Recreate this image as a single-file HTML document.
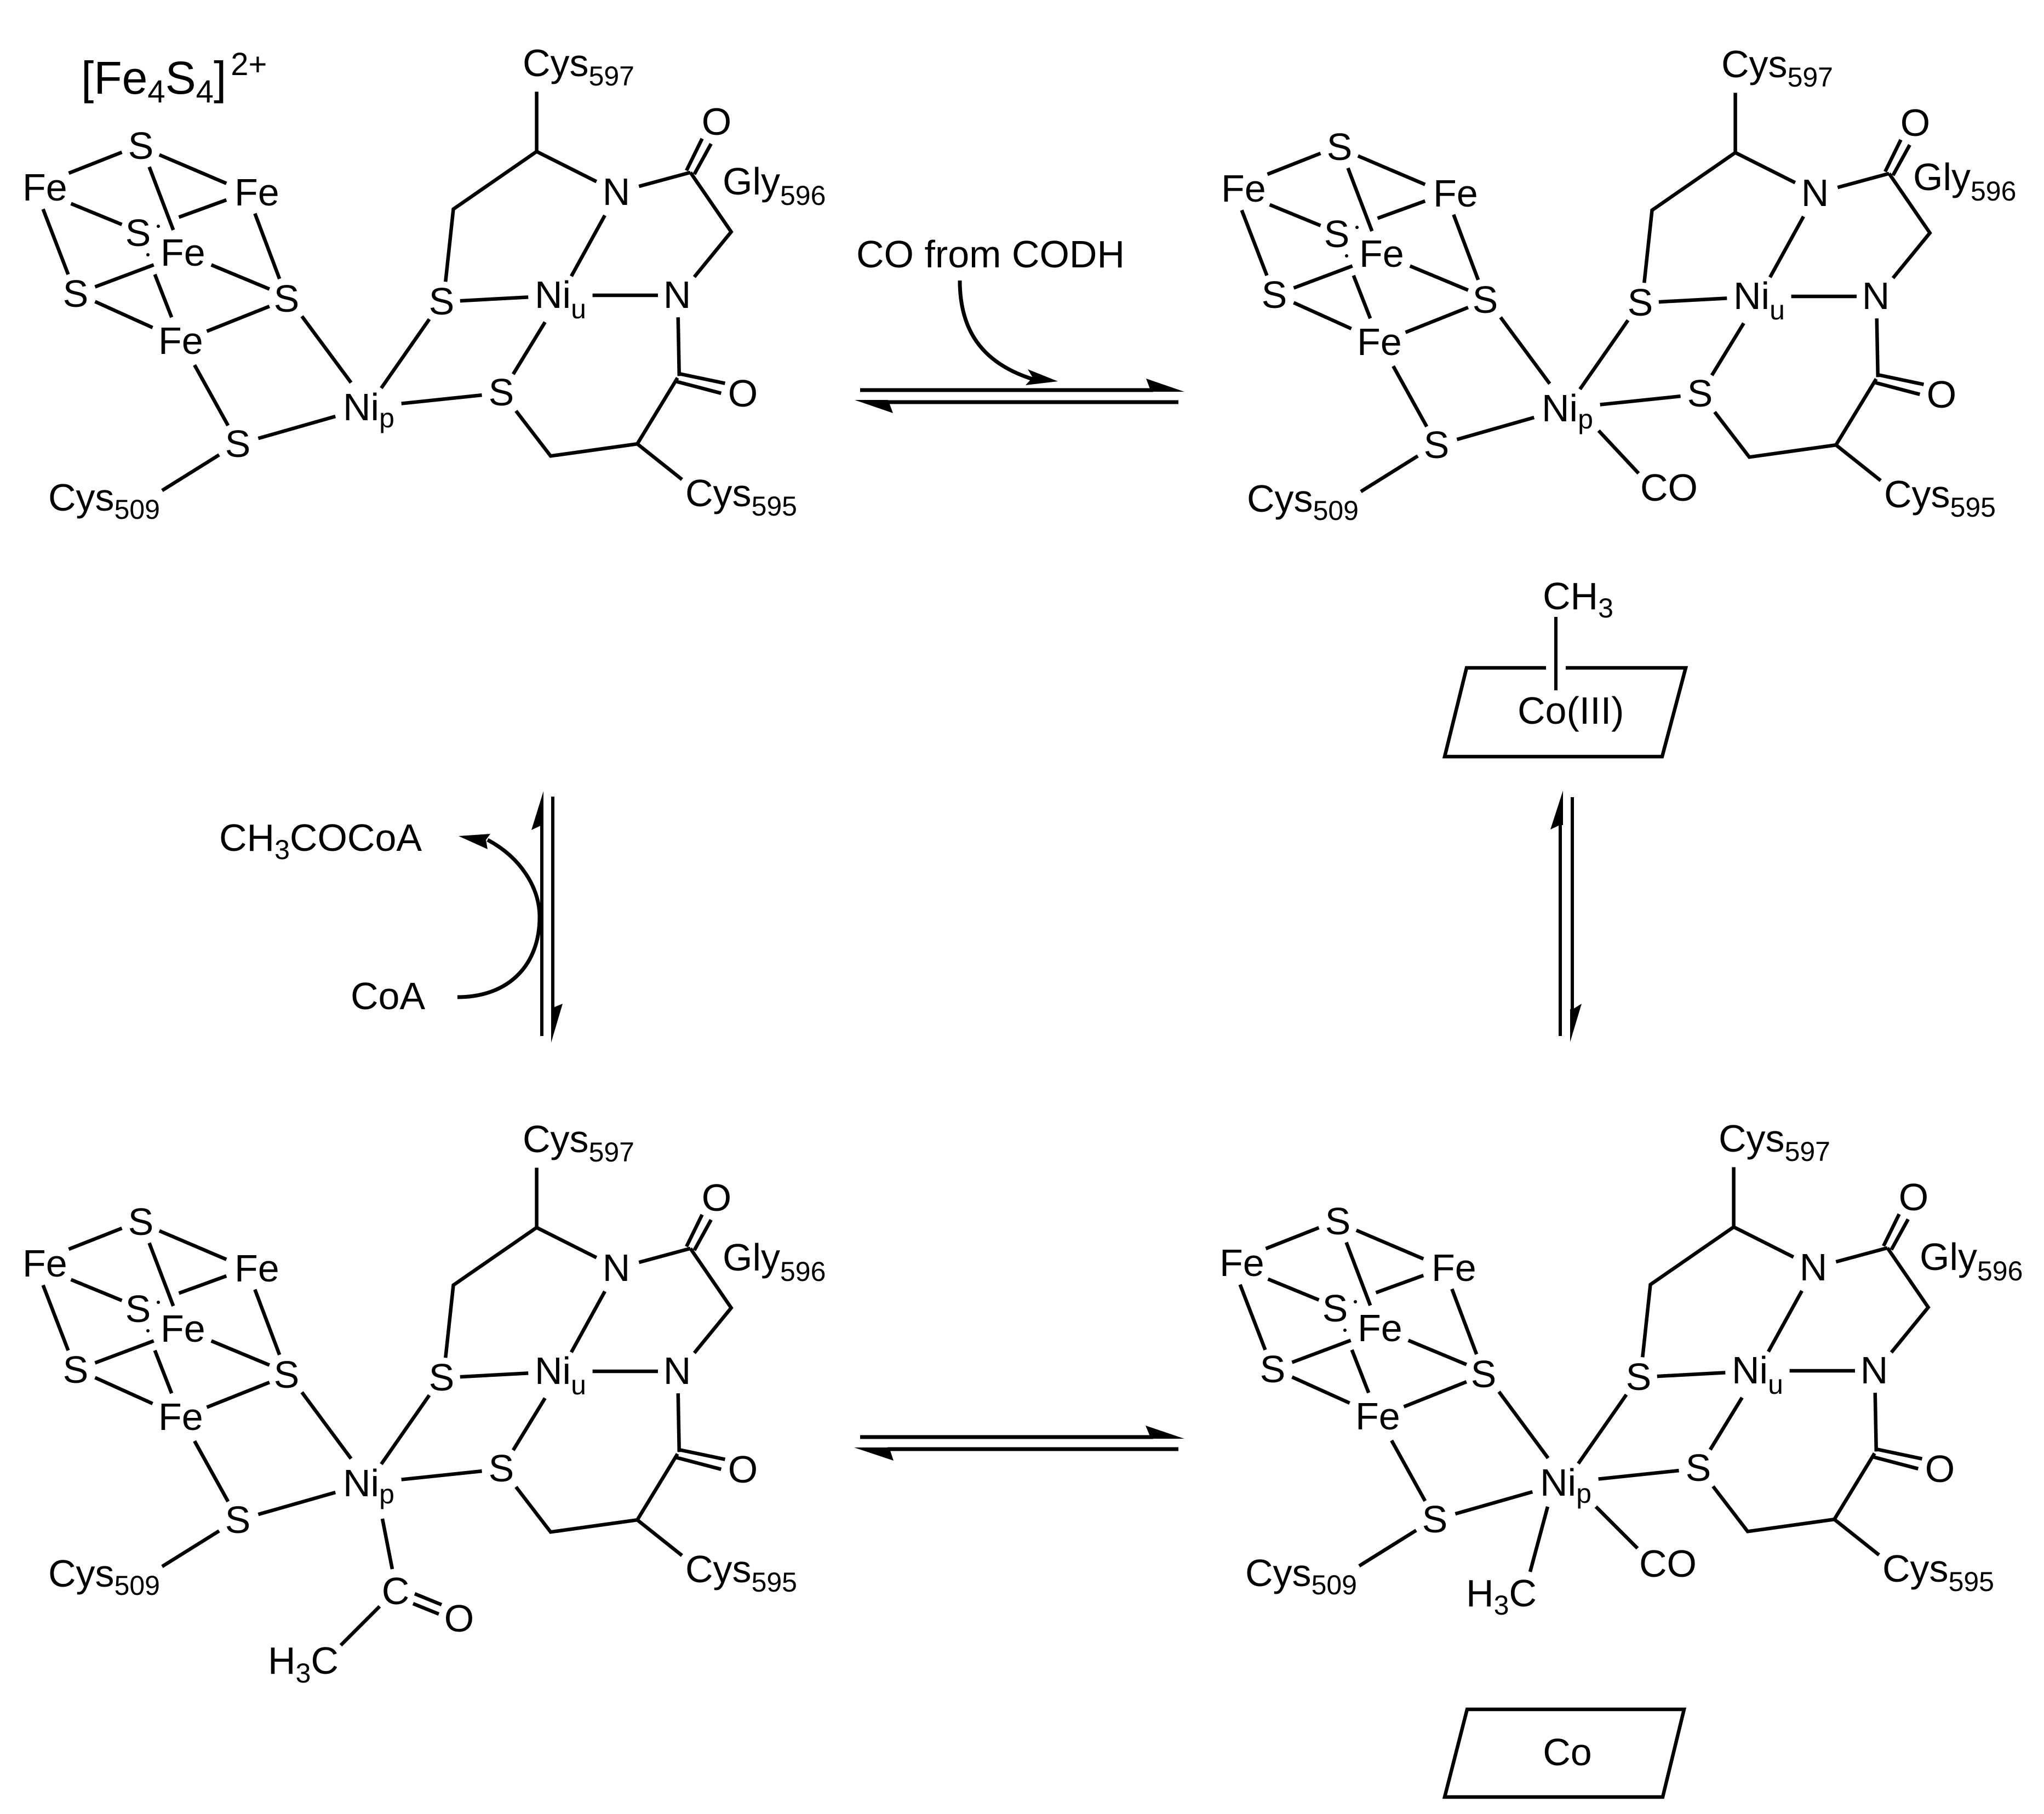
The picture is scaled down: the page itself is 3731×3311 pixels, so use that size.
<!DOCTYPE html>
<html><head><meta charset="utf-8"><style>
html,body{margin:0;padding:0;background:#fff}
svg{display:block}
text{font-family:"Liberation Sans",sans-serif;font-size:70px;fill:#000}
.m{text-anchor:middle}
.s{font-size:50px}
.b line,.b polyline{stroke:#000;stroke-width:6.5;fill:none;vector-effect:non-scaling-stroke}
.a{stroke:#000;fill:none;stroke-width:7}
</style></head><body>
<svg xmlns="http://www.w3.org/2000/svg" width="3731" height="3311" viewBox="0 0 3731 3311">
<rect width="3731" height="3311" fill="#fff"/>
<defs>
<g id="bonds" class="b" transform="scale(1.0204 0.6696)">
<line x1="218" y1="415" x2="123" y2="472"/>
<line x1="285" y1="422" x2="405" y2="500"/>
<line x1="267" y1="455" x2="310" y2="627"/>
<line x1="127" y1="555" x2="218" y2="612"/>
<line x1="405" y1="545" x2="320" y2="592"/>
<line x1="77" y1="570" x2="122" y2="748"/>
<line x1="456" y1="582" x2="500" y2="760"/>
<line x1="275" y1="722" x2="170" y2="782"/>
<line x1="378" y1="722" x2="482" y2="788"/>
<line x1="277" y1="748" x2="307" y2="865"/>
<line x1="170" y1="822" x2="273" y2="893"/>
<line x1="482" y1="835" x2="370" y2="903"/>
<line x1="540" y1="862" x2="628" y2="1043"/>
<line x1="348" y1="995" x2="408" y2="1160"/>
<line x1="462" y1="1195" x2="600" y2="1135"/>
<line x1="392" y1="1240" x2="290" y2="1337"/>
<line x1="768" y1="870" x2="682" y2="1058"/>
<line x1="718" y1="1100" x2="862" y2="1077"/>
<line x1="823" y1="820" x2="945" y2="810"/>
<polyline points="797,768 811,570 960,413 960,250"/>
<line x1="960" y1="413" x2="1067" y2="495"/>
<line x1="1143" y1="508" x2="1235" y2="470"/>
<line x1="1228" y1="465" x2="1256" y2="378"/>
<line x1="1242" y1="475" x2="1272" y2="392"/>
<polyline points="1235,470 1308,632 1242,755"/>
<line x1="1082" y1="587" x2="1022" y2="753"/>
<line x1="1060" y1="805" x2="1177" y2="805"/>
<line x1="1213" y1="865" x2="1215" y2="1025"/>
<line x1="1213" y1="1018" x2="1297" y2="1045"/>
<line x1="1210" y1="1040" x2="1290" y2="1072"/>
<polyline points="1212,1030 1140,1210 985,1243 923,1120"/>
<line x1="1140" y1="1210" x2="1220" y2="1307"/>
<line x1="975" y1="878" x2="918" y2="1020"/>
</g>
</defs>

<!-- Molecule 1 -->
<use href="#bonds"/>
<text x="148" y="171" style="font-size:84px">[Fe<tspan style="font-size:58px" dy="16">4</tspan><tspan dy="-16">S</tspan><tspan style="font-size:58px" dy="16">4</tspan><tspan dy="-16">]</tspan><tspan style="font-size:58px" dy="-34" dx="8">2+</tspan></text>
<g>
<text x="954" y="139">Cys<tspan class="s" dy="17">597</tspan></text>
<text class="m" x="1308" y="246">O</text>
<text x="1319" y="355">Gly<tspan class="s" dy="19">596</tspan></text>
<text x="41" y="366">Fe</text>
<text class="m" x="257" y="290">S</text>
<text x="428" y="375">Fe</text>
<text class="m" x="252" y="449">S</text>
<text x="293" y="485">Fe</text>
<text class="m" x="138" y="560">S</text>
<text class="m" x="523" y="569">S</text>
<text x="289" y="646">Fe</text>
<text class="m" x="434" y="834">S</text>
<text x="626" y="767">Ni<tspan class="s" dy="13">p</tspan></text>
<text x="88" y="932">Cys<tspan class="s" dy="15">509</tspan></text>
<text class="m" x="806" y="574">S</text>
<text x="976" y="562">Ni<tspan class="s" dy="19">u</tspan></text>
<text class="m" x="915" y="740">S</text>
<text class="m" x="1125" y="374">N</text>
<text class="m" x="1236" y="562">N</text>
<text class="m" x="1356" y="742">O</text>
<text x="1251" y="924">Cys<tspan class="s" dy="17">595</tspan></text>
<circle cx="289" cy="413" r="3"/><circle cx="270" cy="465" r="3"/>
</g>

<!-- Molecule 2 -->
<use href="#bonds" transform="translate(2188 2)"/>
<g transform="translate(2188 2)">
<text x="954" y="139">Cys<tspan class="s" dy="17">597</tspan></text>
<text class="m" x="1308" y="246">O</text>
<text x="1304" y="345">Gly<tspan class="s" dy="19">596</tspan></text>
<text x="41" y="366">Fe</text>
<text class="m" x="257" y="290">S</text>
<text x="428" y="375">Fe</text>
<text class="m" x="252" y="449">S</text>
<text x="293" y="485">Fe</text>
<text class="m" x="138" y="560">S</text>
<text class="m" x="523" y="569">S</text>
<text x="289" y="646">Fe</text>
<text class="m" x="434" y="834">S</text>
<text x="626" y="767">Ni<tspan class="s" dy="13">p</tspan></text>
<text x="88" y="932">Cys<tspan class="s" dy="15">509</tspan></text>
<text class="m" x="806" y="574">S</text>
<text x="976" y="562">Ni<tspan class="s" dy="19">u</tspan></text>
<text class="m" x="915" y="740">S</text>
<text class="m" x="1125" y="374">N</text>
<text class="m" x="1236" y="562">N</text>
<text class="m" x="1356" y="742">O</text>
<text x="1251" y="924">Cys<tspan class="s" dy="17">595</tspan></text>
<circle cx="289" cy="413" r="3"/><circle cx="270" cy="465" r="3"/>
</g>
<line x1="2918" y1="786" x2="2991" y2="864" stroke="#000" stroke-width="6.5"/>
<text x="2994" y="914">CO</text>

<!-- Molecule 3 -->
<use href="#bonds" transform="translate(0 1964)"/>
<g transform="translate(0 1964)">
<text x="954" y="139">Cys<tspan class="s" dy="17">597</tspan></text>
<text class="m" x="1308" y="246">O</text>
<text x="1319" y="355">Gly<tspan class="s" dy="19">596</tspan></text>
<text x="41" y="366">Fe</text>
<text class="m" x="257" y="290">S</text>
<text x="428" y="375">Fe</text>
<text class="m" x="252" y="449">S</text>
<text x="293" y="485">Fe</text>
<text class="m" x="138" y="560">S</text>
<text class="m" x="523" y="569">S</text>
<text x="289" y="646">Fe</text>
<text class="m" x="434" y="834">S</text>
<text x="626" y="767">Ni<tspan class="s" dy="13">p</tspan></text>
<text x="88" y="932">Cys<tspan class="s" dy="15">509</tspan></text>
<text class="m" x="806" y="574">S</text>
<text x="976" y="562">Ni<tspan class="s" dy="19">u</tspan></text>
<text class="m" x="915" y="740">S</text>
<text class="m" x="1125" y="374">N</text>
<text class="m" x="1236" y="562">N</text>
<text class="m" x="1356" y="742">O</text>
<text x="1251" y="924">Cys<tspan class="s" dy="17">595</tspan></text>
<circle cx="289" cy="413" r="3"/><circle cx="270" cy="465" r="3"/>
</g>
<g stroke="#000" stroke-width="6.5">
<line x1="698" y1="2772" x2="716" y2="2864"/>
<line x1="757" y1="2909" x2="806" y2="2929"/>
<line x1="754" y1="2927" x2="801" y2="2946"/>
<line x1="693" y1="2932" x2="622" y2="3003"/>
</g>
<text class="m" x="722" y="2928">C</text>
<text class="m" x="838" y="2978">O</text>
<text x="489" y="3055">H<tspan class="s" dy="16">3</tspan><tspan dy="-16">C</tspan></text>

<!-- Molecule 4 -->
<use href="#bonds" transform="translate(2185 1963)"/>
<g transform="translate(2185 1963)">
<text x="952" y="139">Cys<tspan class="s" dy="17">597</tspan></text>
<text class="m" x="1308" y="246">O</text>
<text x="1319" y="355">Gly<tspan class="s" dy="19">596</tspan></text>
<text x="41" y="366">Fe</text>
<text class="m" x="257" y="290">S</text>
<text x="428" y="375">Fe</text>
<text class="m" x="252" y="449">S</text>
<text x="293" y="485">Fe</text>
<text class="m" x="138" y="560">S</text>
<text class="m" x="523" y="569">S</text>
<text x="289" y="646">Fe</text>
<text class="m" x="434" y="834">S</text>
<text x="626" y="767">Ni<tspan class="s" dy="13">p</tspan></text>
<text x="88" y="932">Cys<tspan class="s" dy="15">509</tspan></text>
<text class="m" x="806" y="574">S</text>
<text x="976" y="562">Ni<tspan class="s" dy="19">u</tspan></text>
<text class="m" x="915" y="740">S</text>
<text class="m" x="1125" y="374">N</text>
<text class="m" x="1236" y="562">N</text>
<text class="m" x="1356" y="742">O</text>
<text x="1251" y="924">Cys<tspan class="s" dy="17">595</tspan></text>
<circle cx="289" cy="413" r="3"/><circle cx="270" cy="465" r="3"/>
</g>
<g stroke="#000" stroke-width="6.5">
<line x1="2913" y1="2750" x2="2989" y2="2826"/>
<line x1="2825" y1="2750" x2="2793" y2="2869"/>
</g>
<text x="2992" y="2878">CO</text>
<text x="2676" y="2932">H<tspan class="s" dy="15">3</tspan><tspan dy="-15">C</tspan></text>

<!-- Top equilibrium arrows -->
<text x="1563" y="488">CO from CODH</text>
<line class="a" x1="1570" y1="712" x2="2105" y2="712"/>
<polygon points="2162,715 2092,691 2101,715"/>
<line class="a" x1="1620" y1="734" x2="2151" y2="734"/>
<polygon points="1560,730 1630,754 1621,730"/>
<path class="a" d="M1752 512 C1752 600 1790 662 1885 692"/>
<polygon points="1931,696 1876,674 1885,689 1872,703"/>

<!-- Bottom equilibrium arrows -->
<line class="a" x1="1570" y1="2623" x2="2105" y2="2623"/>
<polygon points="2162,2626 2091,2602 2101,2626"/>
<line class="a" x1="1620" y1="2645" x2="2151" y2="2645"/>
<polygon points="1559,2642 1631,2666 1623,2642"/>

<!-- Left vertical arrows -->
<line class="a" style="stroke-width:6" x1="989" y1="1500" x2="989" y2="1891"/>
<polygon points="992,1444 970,1515 987,1507 992,1507"/>
<line class="a" style="stroke-width:6" x1="1009" y1="1454" x2="1009" y2="1845"/>
<polygon points="1006,1903 1027,1832 1010,1839 1006,1839"/>
<path class="a" d="M835 1820 C930 1820 985 1760 985 1674 C985 1620 950 1565 890 1533"/>
<polygon points="837,1526 895,1522 887,1533 890,1550"/>
<text x="400" y="1553">CH<tspan class="s" dy="15">3</tspan><tspan dy="-15">COCoA</tspan></text>
<text x="640" y="1842">CoA</text>

<!-- Right vertical arrows -->
<line class="a" style="stroke-width:6" x1="2848" y1="1500" x2="2848" y2="1891"/>
<polygon points="2853,1443 2830,1514 2847,1506 2853,1506"/>
<line class="a" style="stroke-width:6" x1="2870" y1="1455" x2="2870" y2="1845"/>
<polygon points="2866,1902 2887,1832 2871,1842 2866,1842"/>

<!-- Co(III) plane -->
<text x="2816" y="1112">CH<tspan class="s" dy="15">3</tspan></text>
<line x1="2840" y1="1126" x2="2840" y2="1260" stroke="#000" stroke-width="6"/>
<polyline points="2822,1219 2677,1219 2637,1381 3034,1381 3077,1219 2858,1219" fill="none" stroke="#000" stroke-width="6.5"/>
<text x="2770" y="1321">Co(III)</text>

<!-- Co plane -->
<polygon points="2678,3120 3074,3120 3035,3280 2637,3280" fill="none" stroke="#000" stroke-width="6.5"/>
<text class="m" x="2861" y="3222">Co</text>
</svg>
</body></html>
